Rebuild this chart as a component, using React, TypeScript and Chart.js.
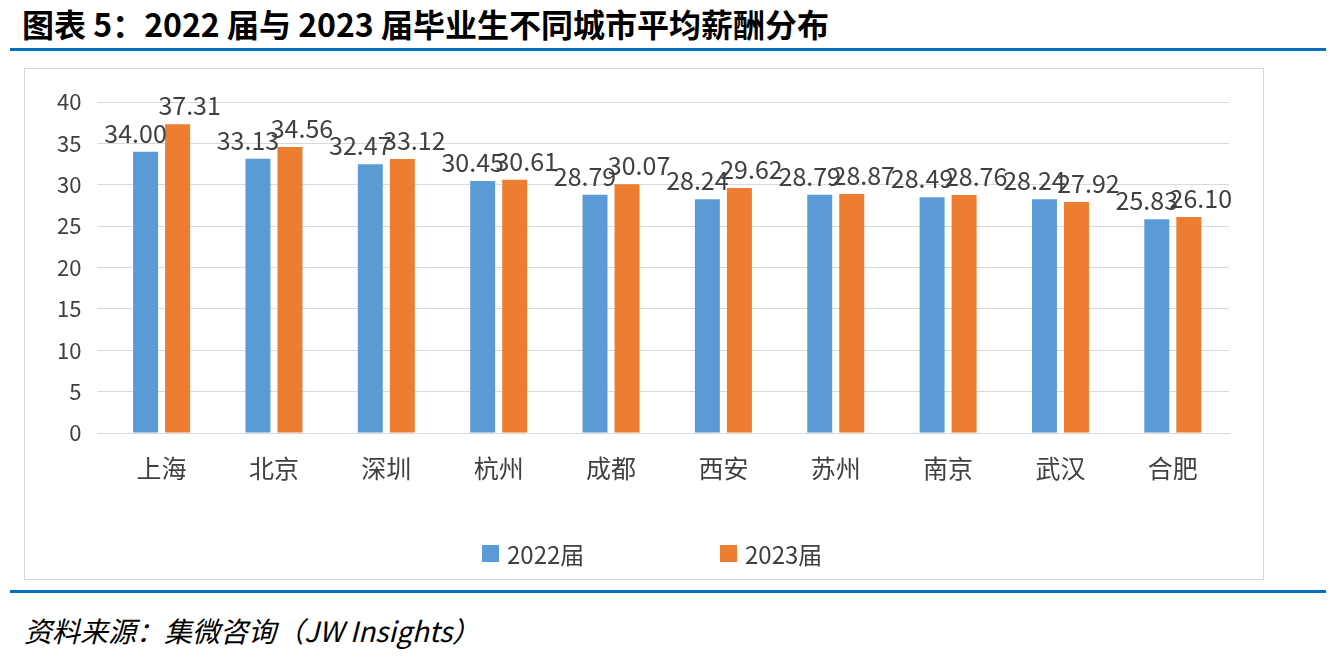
import React, { useEffect, useRef } from "react";
import { Chart, registerables } from "chart.js";
Chart.register(...registerables);

const categories = ["上海", "北京", "深圳", "杭州", "成都", "西安", "苏州", "南京", "武汉", "合肥"];
const s2022 = [34.0, 33.13, 32.47, 30.45, 28.79, 28.24, 28.79, 28.49, 28.24, 25.83];
const s2023 = [37.31, 34.56, 33.12, 30.61, 30.07, 29.62, 28.87, 28.76, 27.92, 26.1];
const seriesNames = ["2022届", "2023届"];
const colors = ["#5B9BD5", "#ED7D31"];

const font = "'Noto Sans CJK SC', 'Noto Sans', sans-serif";

const labelPlugin = {
  id: "vlabels",
  afterDatasetsDraw(chart: any) {
    const ctx = chart.ctx;
    ctx.save();
    ctx.font = `25px ${font}`;
    ctx.fillStyle = "#404040";
    ctx.textAlign = "center";
    ctx.textBaseline = "bottom";
    chart.data.datasets.forEach((ds: any, di: number) => {
      chart.getDatasetMeta(di).data.forEach((el: any, i: number) => {
        ctx.fillText(ds.data[i].toFixed(2), el.x + (di === 0 ? -10 : 12), el.y - 6);
      });
    });
    ctx.restore();
  },
};

export default function App() {
  const ref = useRef<HTMLCanvasElement>(null);
  useEffect(() => {
    document.body.style.margin = "0";
    const c = new Chart(ref.current!, {
      type: "bar",
      data: {
        labels: categories,
        datasets: [
          { label: seriesNames[0], data: s2022, backgroundColor: colors[0], categoryPercentage: 0.57, barPercentage: 0.78 },
          { label: seriesNames[1], data: s2023, backgroundColor: colors[1], categoryPercentage: 0.57, barPercentage: 0.78 },
        ],
      },
      options: {
        animation: false,
        responsive: false,
        layout: { padding: { top: 33, right: 34, left: 16, bottom: 84 } },
        plugins: { legend: { display: false }, tooltip: { enabled: false } },
        scales: {
          x: {
            grid: { display: false },
            border: { color: "#D9D9D9" },
            ticks: { font: { family: font, size: 25 }, color: "#404040", padding: 12 },
          },
          y: {
            min: 0, max: 40,
            ticks: { stepSize: 5, font: { family: font, size: 22 }, color: "#404040", padding: 16 },
            grid: { color: "#D9D9D9" },
            border: { display: false },
          },
        },
      },
      plugins: [labelPlugin],
    });
    return () => c.destroy();
  }, []);
  return (
    <div style={{ position: "relative", width: 1331, height: 662, background: "#fff", fontFamily: font }}>
      <div style={{ position: "absolute", left: 22, top: 0, fontSize: 32, fontWeight: "bold", color: "#000" }}>
        图表 5：2022 届与 2023 届毕业生不同城市平均薪酬分布
      </div>
      <div style={{ position: "absolute", left: 10, top: 48, width: 1316, height: 3, background: "#0070C0" }} />
      <div style={{ position: "absolute", left: 24, top: 68, width: 1238, height: 510, border: "1px solid #D9D9D9" }}>
        <canvas ref={ref} width={1238} height={510} />
      </div>
      {seriesNames.map((n, i) => (
        <div key={n} style={{ position: "absolute", left: 482 + i * 238, top: 536, display: "flex", alignItems: "center", fontSize: 24, color: "#404040" }}>
          <span style={{ display: "inline-block", width: 17, height: 17, background: colors[i], marginRight: 8 }} />
          {n}
        </div>
      ))}
      <div style={{ position: "absolute", left: 10, top: 590, width: 1316, height: 3, background: "#0070C0" }} />
      <div style={{ position: "absolute", left: 24, top: 610, fontSize: 28, fontStyle: "italic", color: "#000" }}>
        资料来源：集微咨询（JW Insights）
      </div>
    </div>
  );
}
